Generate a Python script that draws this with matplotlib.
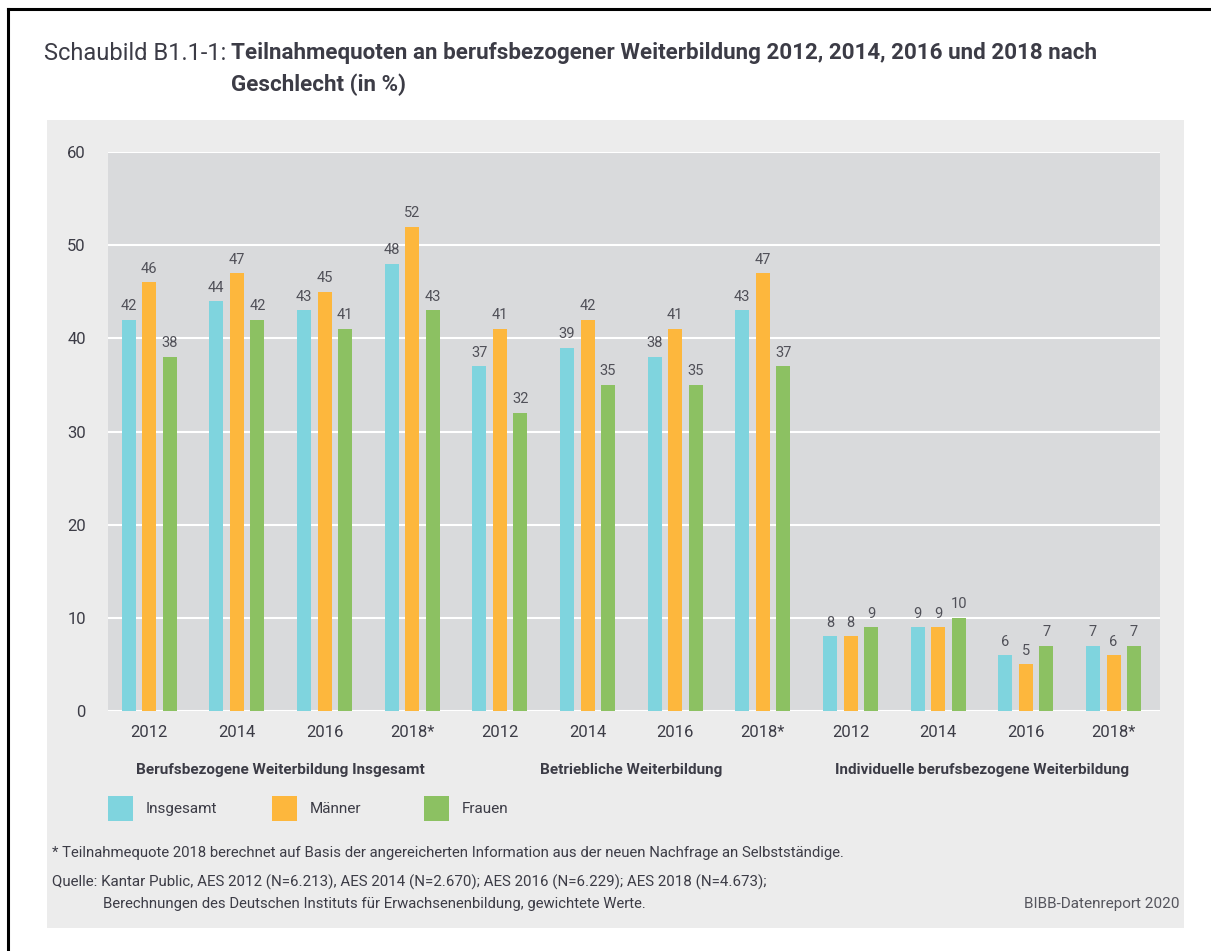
import matplotlib
matplotlib.use("Agg")
import matplotlib.pyplot as plt
from matplotlib.patches import Rectangle
from matplotlib.lines import Line2D
import numpy as np

# Daten aus dem Schaubild
jahre = ["2012", "2014", "2016", "2018*"] * 3
insgesamt = [42, 44, 43, 48, 37, 39, 38, 43, 8, 9, 6, 7]
maenner = [46, 47, 45, 52, 41, 42, 41, 47, 8, 9, 5, 6]
frauen = [38, 42, 41, 43, 32, 35, 35, 37, 9, 10, 7, 7]
bereiche = [
    "Berufsbezogene Weiterbildung Insgesamt",
    "Betriebliche Weiterbildung",
    "Individuelle berufsbezogene Weiterbildung",
]
serien = ["Insgesamt", "Männer", "Frauen"]
farben = ["#7fd4de", "#fdb73d", "#8cc162"]

plt.rcParams["font.family"] = ["Roboto", "DejaVu Sans"]

W, H = 1211, 951
fig = plt.figure(figsize=(W / 100, H / 100), dpi=100)
fig.patch.set_facecolor("white")

textfarbe = "#3c3c46"


def fx(px):
    return px / W


def fy(py):
    return 1 - py / H


# Rahmen oben und links
fig.add_artist(Line2D([fx(8), 1], [fy(9), fy(9)], color="black", lw=2.2,
                      transform=fig.transFigure))
fig.add_artist(Line2D([fx(8), fx(8)], [fy(9), 0], color="black", lw=2.2,
                      transform=fig.transFigure))

# heller Hintergrund des Schaubilds
fig.add_artist(Rectangle((fx(47), fy(928)), fx(1184 - 47), (928 - 120) / H,
                         transform=fig.transFigure, facecolor="#ececec",
                         edgecolor="none", zorder=0))

# Titel
fig.text(fx(226), fy(53), "Schaubild B1.1-1:", fontsize=17, color=textfarbe,
         va="center", ha="right")
fig.text(fx(231), fy(53),
         "Teilnahmequoten an berufsbezogener Weiterbildung 2012, 2014, 2016 und 2018 nach",
         fontsize=16.1, color=textfarbe, va="center", ha="left", fontweight="bold")
fig.text(fx(231), fy(85), "Geschlecht (in %)", fontsize=16.1, color=textfarbe,
         va="center", ha="left", fontweight="bold")

ax = fig.add_axes([fx(108), fy(711), fx(1160 - 108), (711 - 152) / H])
ax.set_facecolor("#d9dadc")
for s in ax.spines.values():
    s.set_visible(False)

x = np.arange(len(jahre))
breite = 0.16
abstand = 0.234
for i, (werte, farbe) in enumerate(zip([insgesamt, maenner, frauen], farben)):
    pos = x + (i - 1) * abstand
    bars = ax.bar(pos, werte, width=breite, color=farbe, zorder=3)
    for b, v in zip(bars, werte):
        ax.text(b.get_x() + b.get_width() / 2, v + 0.7, str(v), ha="center",
                va="bottom", fontsize=10.5, color="#505058", zorder=4)

ax.set_xlim(-0.47, 11.53)
ax.set_ylim(0, 60)
ax.set_yticks(range(0, 61, 10))
ax.yaxis.grid(True, color="white", lw=1.5, zorder=1)
ax.set_axisbelow(True)
ax.tick_params(axis="y", length=0, pad=16, labelsize=12, labelcolor=textfarbe)
ax.set_xticks(x)
ax.set_xticklabels(jahre)
ax.tick_params(axis="x", length=0, pad=10, labelsize=12, labelcolor=textfarbe)

# Bereichsbeschriftungen
for k, name in enumerate(bereiche):
    mitte = 4 * k + 1.5
    ax.text(mitte, -0.105, name, transform=ax.get_xaxis_transform(),
            ha="center", va="center", fontsize=11, fontweight="bold",
            color=textfarbe)

# Legende
leg_x = [108, 272, 424]
for lx, name, farbe in zip(leg_x, serien, farben):
    fig.add_artist(Rectangle((fx(lx), fy(821)), fx(25), 25 / H,
                             transform=fig.transFigure, facecolor=farbe,
                             edgecolor="none"))
    fig.text(fx(lx + 38), fy(809), name, fontsize=11, color=textfarbe,
             va="center", ha="left")

# Fußnoten
fig.text(fx(52), fy(853),
         "* Teilnahmequote 2018 berechnet auf Basis der angereicherten Information aus der neuen Nachfrage an Selbstständige.",
         fontsize=10.7, color=textfarbe, va="center", ha="left")
fig.text(fx(52), fy(882),
         "Quelle: Kantar Public, AES 2012 (N=6.213), AES 2014 (N=2.670); AES 2016 (N=6.229); AES 2018 (N=4.673);",
         fontsize=10.9, color=textfarbe, va="center", ha="left")
fig.text(fx(103), fy(904),
         "Berechnungen des Deutschen Instituts für Erwachsenenbildung, gewichtete Werte.",
         fontsize=10.7, color=textfarbe, va="center", ha="left")
fig.text(fx(1180), fy(904), "BIBB-Datenreport 2020", fontsize=11,
         color="#55555d", va="center", ha="right")

fig.savefig("out.png", dpi=100)
